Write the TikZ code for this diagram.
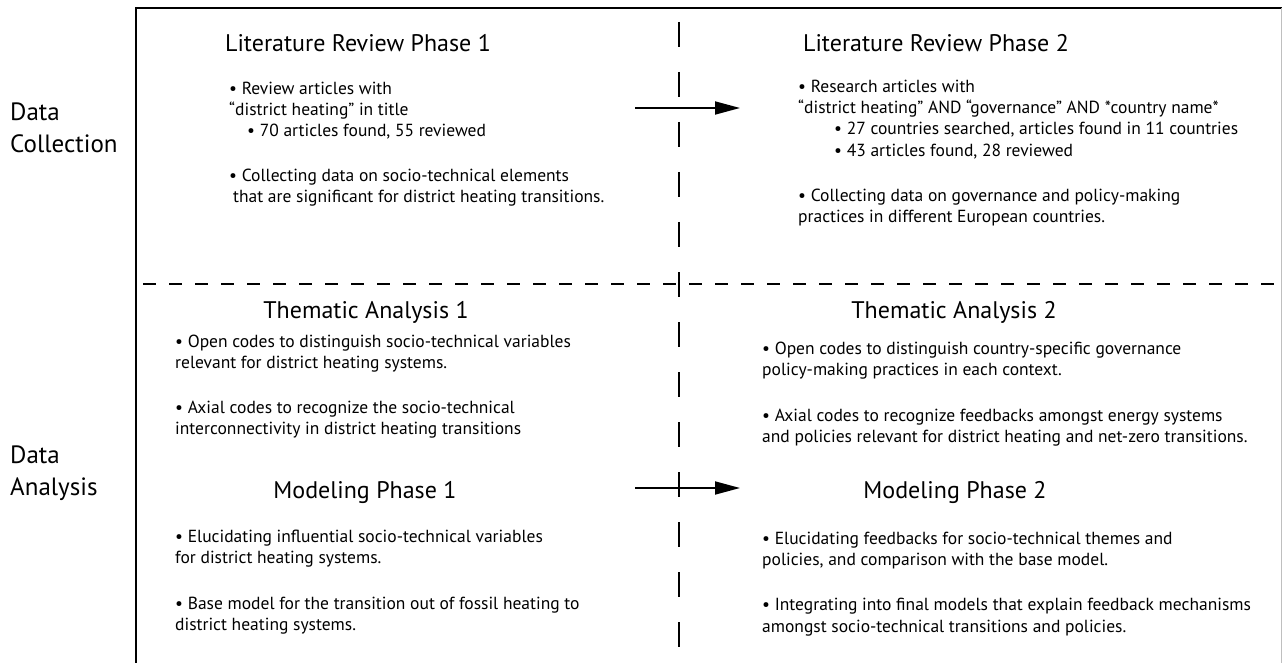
\documentclass[tikz,border=0pt]{standalone}
\usepackage{fontspec}
\setmainfont{PT Sans}
\usetikzlibrary{arrows.meta}
\begin{document}
\begin{tikzpicture}[x=1pt,y=-1pt,
  ttl/.style={font=\fontsize{24}{28}\selectfont, anchor=base, inner sep=0pt},
  body/.style={font=\fontsize{17.5}{21.2}\selectfont, anchor=north west, align=left, inner sep=0pt},
  side/.style={font=\fontsize{25}{32}\selectfont, anchor=north west, align=left, inner sep=0pt},
  frameline/.style={line width=2.2pt},
  vdash/.style={line width=2.7pt, dash pattern=on 25pt off 25pt},
  hdash/.style={line width=1.5pt, dash pattern=on 13pt off 13pt},
  flow/.style={line width=1.8pt, -{Triangle[length=25pt,width=13pt]}}]
\useasboundingbox (0,0) rectangle (1282,663);
% frame
\draw[frameline] (136,663) -- (136,8) -- (1282,8);
\draw[black!25, line width=1pt] (1281,8) -- (1281,663);
% dashed separators
\draw[hdash] (143,284) -- (1282,284);
\draw[vdash] (679,22) -- (679,663);
% side labels
\node[side] (dc) at (10,103) {Data\\Collection};
\node[side] (da) at (10,446) {Data\\Analysis};
% titles
\node[ttl] (lr1t) at (358,52) {Literature Review Phase 1};
\node[ttl] (lr2t) at (936,52) {Literature Review Phase 2};
\node[ttl] (ta1t) at (366,318) {Thematic Analysis 1};
\node[ttl] (ta2t) at (954,318) {Thematic Analysis 2};
\node[ttl] (mp1t) at (365,498) {Modeling Phase 1};
\node[ttl] (mp2t) at (955,498) {Modeling Phase 2};
% bodies
\node[body] (lr1b) at (229,82) {• Review articles with\\
“district heating” in title\\
\hspace{18pt}• 70 articles found, 55 reviewed\\[23pt]
• Collecting data on socio-technical elements\\
\hspace{4pt}that are significant for district heating transitions.};
\node[body] (lr2b) at (798,80) {• Research articles with\\
“district heating” AND “governance” AND *country name*\\
\hspace{36pt}• 27 countries searched, articles found in 11 countries\\
\hspace{36pt}• 43 articles found, 28 reviewed\\[24pt]
• Collecting data on governance and policy-making\\
practices in different European countries.};
\node[body] (ta1b) at (175,335) {• Open codes to distinguish socio-technical variables\\
relevant for district heating systems.\\[23pt]
• Axial codes to recognize the socio-technical\\
interconnectivity in district heating transitions};
\node[body] (ta2b) at (762,342) {• Open codes to distinguish country-specific governance\\
policy-making practices in each context.\\[24pt]
• Axial codes to recognize feedbacks amongst energy systems\\
and policies relevant for district heating and net-zero transitions.};
\node[body] (mp1b) at (175,530) {• Elucidating influential socio-technical variables\\
for district heating systems.\\[24pt]
• Base model for the transition out of fossil heating to\\
district heating systems.};
\node[body] (mp2b) at (762,532) {• Elucidating feedbacks for socio-technical themes and\\
policies, and comparison with the base model.\\[24pt]
• Integrating into final models that explain feedback mechanisms\\
amongst socio-technical transitions and policies.};
% arrows
\coordinate (a1s) at (635,108);
\coordinate (a1e) at (740,108);
\coordinate (a2s) at (635,488);
\coordinate (a2e) at (740,488);
\draw[flow] (a1s) -- (a1e);
\draw[flow] (a2s) -- (a2e);
\end{tikzpicture}
\end{document}
